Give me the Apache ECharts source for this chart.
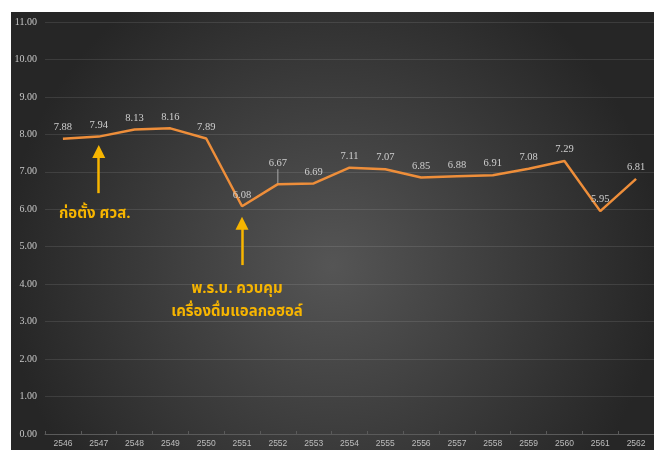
<!DOCTYPE html>
<html><head><meta charset="utf-8">
<script src="https://cdn.jsdelivr.net/npm/echarts@6/dist/echarts.min.js"></script>
<style>html,body{margin:0;padding:0;background:#fff;}#c{width:654px;height:450px;}</style>
</head><body><div id="c"></div>
<script>
var categories = ['2546','2547','2548','2549','2550','2551','2552','2553','2554','2555','2556','2557','2558','2559','2560','2561','2562'];
var values = [7.88,7.94,8.13,8.16,7.89,6.08,6.67,6.69,7.11,7.07,6.85,6.88,6.91,7.08,7.29,5.95,6.81];
var yTicks = {min:0, max:11, interval:1};
var note1 = 'ก่อตั้ง ศวส.';
var note2 = 'พ.ร.บ. ควบคุม\nเครื่องดื่มแอลกอฮอล์';
// arrow anchors in data space [categoryIndex, value]
var arrow1 = [[0.94, 6.43],[1.08, 7.54]];
var arrow2 = [[4.81, 4.51],[4.925, 5.63]];
var raisedLabelIndex = 6;

var seriesData = values.map(function(v, i){
  return i === raisedLabelIndex
    ? {value:v, labelLine:{show:true, lineStyle:{color:'#aaaaaa', width:1}}}
    : {value:v};
});

var chart = echarts.init(document.getElementById('c'));
var gold = '#F7B500';
var thaiFont = '"Noto Sans Thai","Noto Sans","DejaVu Sans",sans-serif';
chart.setOption({
  animation:false,
  backgroundColor:'#ffffff',
  graphic:[
    {type:'rect', z:-10, silent:true, shape:{x:11,y:12,width:643,height:438},
     style:{fill:{type:'radial',x:0.5,y:0.58,r:0.75,colorStops:[{offset:0,color:'#555555'},{offset:1,color:'#262626'}]}}},
    {type:'text', z:100, x:59, y:207, style:{text:note1, fill:gold, font:'bold 15px '+thaiFont}},
    {type:'text', z:100, x:237, y:278, style:{text:note2, fill:gold, font:'bold 15px '+thaiFont, align:'center', lineHeight:23}}
  ],
  grid:{left:45, top:22, width:611, bottom:16},
  xAxis:{type:'category', data:categories, boundaryGap:true,
    axisLine:{lineStyle:{color:'#5a5a5a'}},
    axisTick:{show:true, inside:true, length:3, lineStyle:{color:'#5a5a5a'}},
    axisLabel:{color:'#bdbdbd', fontSize:8.5, margin:5, fontFamily:'"Liberation Sans",sans-serif'}},
  yAxis:{type:'value', min:yTicks.min, max:yTicks.max, interval:yTicks.interval,
    axisLine:{show:false}, axisTick:{show:false},
    splitLine:{lineStyle:{color:'rgba(255,255,255,0.1)'}},
    axisLabel:{color:'#c8c8c8', fontSize:10, margin:8, fontFamily:'"Liberation Serif",serif', formatter:function(v){return v.toFixed(2);}}},
  series:[{
    type:'line', data:seriesData, symbol:'circle', symbolSize:2, showSymbol:true,
    itemStyle:{color:'rgba(0,0,0,0)', borderWidth:0},
    lineStyle:{color:'#EE8E3A', width:2.5},
    label:{show:true, position:'top', distance:5, color:'#cfcfcf', fontSize:10.5, fontFamily:'"Liberation Serif",serif',
      formatter:function(p){return Number(p.value).toFixed(2);}},
    labelLine:{show:false},
    labelLayout:function(p){
      if(p.dataIndex===raisedLabelIndex){ return {dy:-9, hideOverlap:false}; }
      return {hideOverlap:false};
    },
    markLine:{silent:true, symbol:['none','triangle'], symbolSize:[13,13],
      lineStyle:{color:gold, width:2.5, type:'solid'}, label:{show:false},
      data:[
        [{coord:arrow1[0]},{coord:arrow1[1]}],
        [{coord:arrow2[0]},{coord:arrow2[1]}]
      ]}
  }]
});
</script></body></html>
